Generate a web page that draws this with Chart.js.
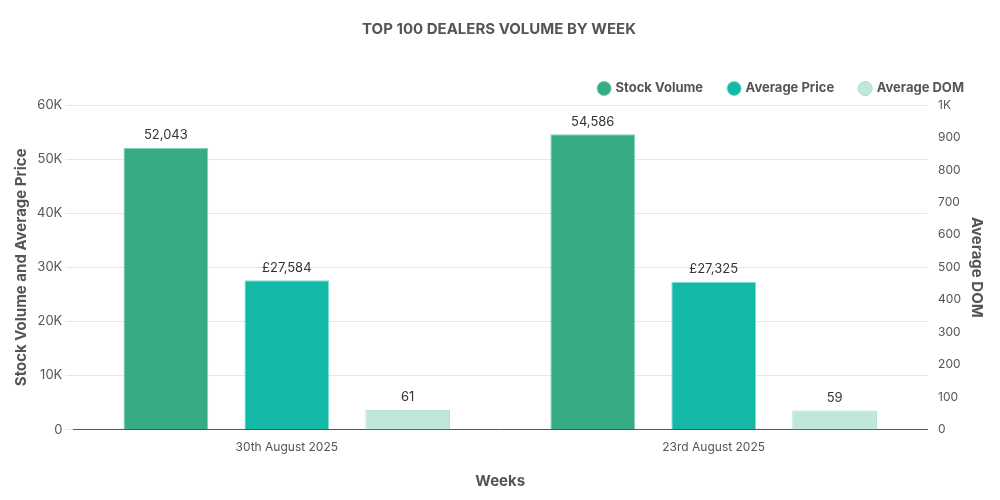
<!DOCTYPE html>
<html>
<head>
<meta charset="utf-8">
<script src="https://cdn.jsdelivr.net/npm/chart.js@4"></script>
<style>
body { margin: 0; background: #fff; }
#wrap { width: 1000px; height: 500px; }
</style>
</head>
<body>
<div id="wrap"><canvas id="c"></canvas></div>
<script>
const weeks = ["30th August 2025", "23rd August 2025"];
const stockVolume = [52043, 54586];
const averagePrice = [27584, 27325];
const averageDom = [61, 59];

// draws the value above each bar
const barLabels = {
    id: "barLabels",
    afterDatasetsDraw(chart) {
        const ctx = chart.ctx;
        ctx.save();
        ctx.font = "13px Inter";
        ctx.fillStyle = "#333";
        ctx.textAlign = "center";
        ctx.textBaseline = "bottom";
        chart.data.datasets.forEach((ds, i) => {
            chart.getDatasetMeta(i).data.forEach((bar, j) => {
                let v = ds.data[j].toLocaleString("en-GB");
                if (i === 1) v = "£" + v;
                ctx.fillText(v, bar.x, bar.y - 6);
            });
        });
        ctx.restore();
    }
};

const ctx = document.getElementById("c").getContext("2d");
Chart.defaults.font.family = "Inter";
Chart.defaults.color = "#555";

const myChart = new Chart(ctx,
{
    type: "bar",
    data:
    {
        labels: weeks,
        datasets:
        [{
            label: "Stock Volume",
            data: stockVolume,
            backgroundColor: "#36ab84",
            borderColor: "#7fd1b2",
            borderWidth: 1,
            yAxisID: "y"
        },
        {
            label: "Average Price",
            data: averagePrice,
            backgroundColor: "#14b8a6",
            borderColor: "#7fe0d2",
            borderWidth: 1,
            yAxisID: "y"
        },
        {
            label: "Average DOM",
            data: averageDom,
            backgroundColor: "#bfe8da",
            borderColor: "#a8e0cc",
            borderWidth: 1,
            yAxisID: "y1"
        }]
    },
    options:
    {
        responsive: true,
        maintainAspectRatio: false,
        animation: false,
        layout: { padding: { left: 8, right: 10, top: 8, bottom: 6 } },
        datasets: { bar: { categoryPercentage: 0.85, barPercentage: 0.7 } },
        plugins:
        {
            title:
            {
                display: true,
                text: "TOP 100 DEALERS VOLUME BY WEEK",
                color: "#555",
                font: { size: 15, weight: "bold" },
                padding: { top: 12, bottom: 18 }
            },
            legend:
            {
                position: "top",
                align: "end",
                labels:
                {
                    usePointStyle: true,
                    pointStyle: "circle",
                    boxWidth: 10,
                    boxHeight: 10,
                    padding: 26,
                    color: "#555",
                    font: { size: 13, weight: "bold" }
                }
            },
            tooltip: { enabled: false }
        },
        scales:
        {
            x:
            {
                grid: { display: false },
                border: { color: "#555" },
                ticks: { font: { size: 12 }, color: "#555" },
                title: { display: true, text: "Weeks", font: { size: 15, weight: "bold" }, color: "#555", padding: { top: 14 } }
            },
            y:
            {
                position: "left",
                min: 0,
                max: 60000,
                ticks:
                {
                    stepSize: 10000,
                    font: { size: 13 },
                    color: "#555",
                    callback: v => v === 0 ? "0" : (v / 1000) + "K"
                },
                grid: { color: "#e6e6e6" },
                border: { display: false },
                title: { display: true, text: "Stock Volume and Average Price", font: { size: 15, weight: "bold" }, color: "#555" }
            },
            y1:
            {
                position: "right",
                min: 0,
                max: 1000,
                ticks:
                {
                    stepSize: 100,
                    font: { size: 12 },
                    color: "#555",
                    callback: v => v === 1000 ? "1K" : v
                },
                grid: { display: false },
                border: { display: false },
                title: { display: true, text: "Average DOM", font: { size: 15, weight: "bold" }, color: "#555" }
            }
        }
    },
    plugins: [barLabels]
});
</script>
</body>
</html>
